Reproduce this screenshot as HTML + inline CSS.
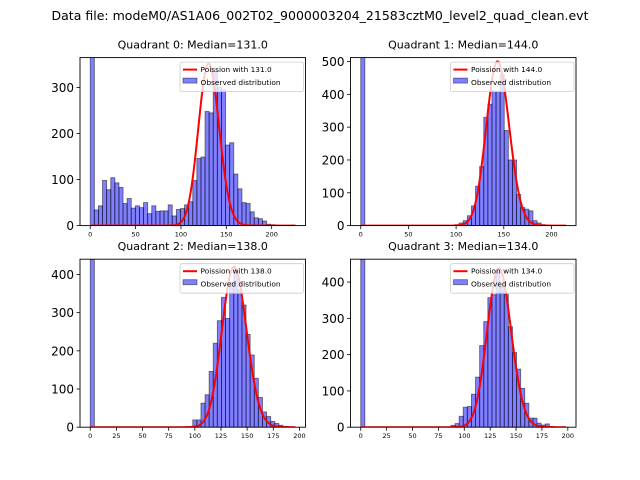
<!DOCTYPE html>
<html><head><meta charset="utf-8">
<style>
body{margin:0;background:#fff;}
svg{display:block;font-family:"DejaVu Sans","Liberation Sans",sans-serif;}
</style></head>
<body>
<svg id="fig" width="640" height="480" viewBox="0 0 640 480" xmlns="http://www.w3.org/2000/svg">
<rect width="640" height="480" fill="#fff"/>
<text x="320" y="20" font-size="12.5" text-anchor="middle" textLength="537" lengthAdjust="spacingAndGlyphs">Data file: modeM0/AS1A06_002T02_9000003204_21583cztM0_level2_quad_clean.evt</text>
</svg>
<script>
// ---- data ----
const quadTitles = ["Quadrant 0: Median=131.0","Quadrant 1: Median=144.0","Quadrant 2: Median=138.0","Quadrant 3: Median=134.0"];
const medians = [131, 144, 138, 134];
const binWidths = [4.52, 4.3, 3.92, 3.96];
const dataMax = [226, 215, 196, 198];
const yMaxes = [365, 512, 440, 463];
const curvePeaks = [352, 500, 420, 438];
const xTicks0 = [0, 50, 100, 150, 200];
const xTicks1 = [0, 50, 100, 150, 200];
const xTicks2 = [0, 25, 50, 75, 100, 125, 150, 175, 200];
const xTicks3 = [0, 25, 50, 75, 100, 125, 150, 175, 200];
const yTicks0 = [0, 100, 200, 300];
const yTicks1 = [0, 100, 200, 300, 400, 500];
const yTicks2 = [0, 100, 200, 300, 400];
const yTicks3 = [0, 100, 200, 300, 400];
const counts0 = [1000,34,43,98,78,104,93,83,48,59,38,43,39,50,26,43,31,32,32,45,21,35,37,45,52,98,146,149,248,245,335,300,295,175,180,112,80,50,48,30,17,15,10,3,2,1,0,0,0,1];
const counts1 = [2000,0,0,0,0,0,0,0,0,0,0,0,0,0,0,0,0,0,0,0,0,0,0,3,8,15,30,60,120,180,330,370,410,410,460,290,200,200,95,55,50,45,15,8,3,1,1,0,0,1];
const counts2 = [2000,0,0,0,0,0,0,0,0,0,0,0,0,0,0,0,0,0,0,0,0,0,0,0,0,19,19,63,85,146,220,279,340,285,380,410,360,320,243,189,128,78,40,28,15,10,5,2,1,1];
const counts3 = [2000,0,0,0,0,0,0,0,0,0,0,0,0,0,0,0,0,0,0,0,0,0,5,10,30,55,57,91,138,225,291,357,365,428,387,366,277,206,160,107,66,25,25,11,6,9,2,1,0,1];
const allCounts = [counts0, counts1, counts2, counts3];
const allXTicks = [xTicks0, xTicks1, xTicks2, xTicks3];
const allYTicks = [yTicks0, yTicks1, yTicks2, yTicks3];

const NS = "http://www.w3.org/2000/svg";
const svg = document.getElementById("fig");
function mk(tag, attrs, parent){
  const e = document.createElementNS(NS, tag);
  for (const k in attrs) e.setAttribute(k, attrs[k]);
  (parent || svg).appendChild(e);
  return e;
}
function lgamma(z){
  const g=7, c=[0.99999999999980993,676.5203681218851,-1259.1392167224028,771.32342877765313,-176.61503916999185,12.507343278686905,-0.13857109526572012,9.9843695780195716e-6,1.5056327351493116e-7];
  z -= 1; let x=c[0];
  for (let i=1;i<g+2;i++) x += c[i]/(z+i);
  const t = z+g+0.5;
  return 0.5*Math.log(2*Math.PI)+(z+0.5)*Math.log(t)-t+Math.log(x);
}
function logPois(k, m){ return k*Math.log(m) - m - lgamma(k+1); }

const axW = 225.5, axH = 168;
const lefts = [80, 350.5, 80, 350.5];
const tops = [57.6, 57.6, 259.2, 259.2];

for (let q=0;q<4;q++){
  const L = lefts[q], T = tops[q];
  const pad = dataMax[q]*0.05;
  const x0 = -pad, x1 = dataMax[q]+pad;
  const sx = v => L + (v - x0)/(x1 - x0)*axW;
  const sy = v => T + axH - v/yMaxes[q]*axH;
  const g = mk("g", {});
  
  
  const clipId = "clip"+q;
  const cp = mk("clipPath", {id: clipId}, g);
  mk("rect", {x:L, y:T, width:axW, height:axH}, cp);
  const t = mk("text", {x:L+axW/2, y:T-9, "font-size":11, "text-anchor":"middle"}, g);
  t.textContent = quadTitles[q];
  
  
  const bars = mk("g", {"clip-path":"url(#"+clipId+")"}, g);
  const bw = binWidths[q];
  allCounts[q].forEach((c, i) => {
    if (c <= 0) return;
    const r = mk("rect", {x:sx(i*bw), y:sy(c), width:sx((i+1)*bw)-sx(i*bw), height:sy(0)-sy(c), fill:"rgba(0,0,255,0.5)", stroke:"rgba(0,0,0,0.5)", "stroke-width":0.9}, bars);
    
    
  });
  const m = medians[q];
  const peakLog = logPois(Math.floor(m), m);
  let d = "";
  for (let k=0;k<=dataMax[q];k++){
    const v = curvePeaks[q]*Math.exp(logPois(k,m)-peakLog);
    d += (k?"L":"M")+sx(k).toFixed(2)+","+sy(v).toFixed(2);
  }
  const p = mk("path", {d:d, fill:"none", stroke:"#ff0000", "stroke-width":2, "clip-path":"url(#"+clipId+")"}, g);
  
  
  mk("rect", {x:L, y:T, width:axW, height:axH, fill:"none", stroke:"#000", "stroke-width":0.9}, g);
  allXTicks[q].forEach(v => {
    const x = sx(v);
    mk("line", {x1:x, x2:x, y1:T+axH, y2:T+axH+3.5, stroke:"#000", "stroke-width":0.8}, g);
    const tl = mk("text", {x:x, y:T+axH+11, "font-size":6.5, "text-anchor":"middle"}, g);
    tl.textContent = v;
    
    
  });
  allYTicks[q].forEach(v => {
    const y = sy(v);
    mk("line", {x1:L-3.5, x2:L, y1:y, y2:y, stroke:"#000", "stroke-width":0.8}, g);
    const tl = mk("text", {x:L-6, y:y+4.5, "font-size":12, "text-anchor":"end"}, g);
    tl.textContent = v;
    
    
  });
  const lx = L+axW-125.5, ly = T+4.5;
  const lg = mk("g", {}, g);
  
  
  mk("rect", {x:lx, y:ly, width:123.5, height:29.5, rx:2, fill:"rgba(255,255,255,0.8)", stroke:"#ccc", "stroke-width":0.8}, lg);
  mk("line", {x1:lx+3, x2:lx+17, y1:ly+7.5, y2:ly+7.5, stroke:"#ff0000", "stroke-width":2}, lg);
  const t1 = mk("text", {x:lx+20.5, y:ly+10, "font-size":7.4}, lg);
  t1.textContent = "Poission with " + m.toFixed(1);
  
  
  mk("rect", {x:lx+3, y:ly+16, width:14, height:5, fill:"rgba(0,0,255,0.5)", stroke:"rgba(0,0,0,0.5)", "stroke-width":0.8}, lg);
  const t2 = mk("text", {x:lx+20.5, y:ly+23, "font-size":7.4}, lg);
  t2.textContent = "Observed distribution";
  
  
}
</script>
</body></html>
